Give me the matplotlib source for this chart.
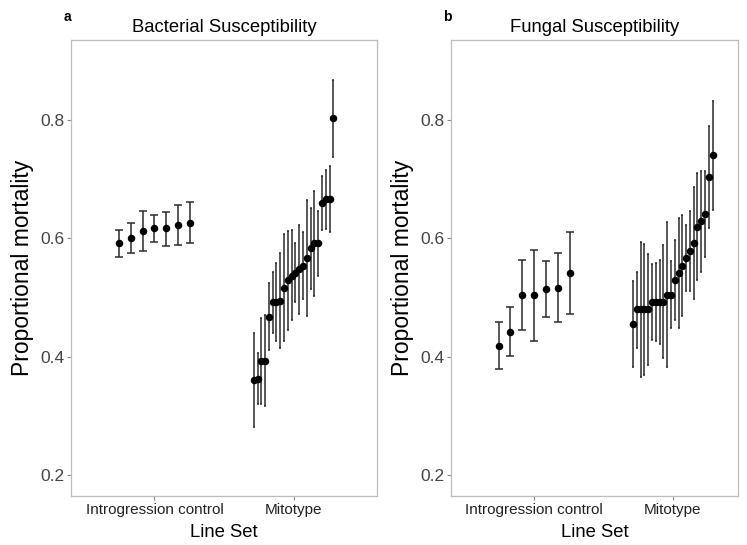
import matplotlib.pyplot as plt
import numpy as np

plt.rcParams['font.family'] = ['Liberation Sans', 'DejaVu Sans']

# Line sets (x categories)
line_sets = ['Introgression control', 'Mitotype']

# --- panel a: bacterial susceptibility ---
bact_intro_mean = [0.592, 0.600, 0.613, 0.617, 0.617, 0.623, 0.626]
bact_intro_lo = [0.569, 0.576, 0.579, 0.594, 0.587, 0.589, 0.592]
bact_intro_hi = [0.614, 0.626, 0.646, 0.639, 0.645, 0.657, 0.661]

bact_mito_mean = [0.361, 0.363, 0.393, 0.393, 0.468, 0.492, 0.492, 0.494, 0.517, 0.530, 0.537,
                  0.542, 0.548, 0.554, 0.567, 0.583, 0.592, 0.592, 0.659, 0.666, 0.666, 0.803]
bact_mito_lo = [0.281, 0.321, 0.321, 0.317, 0.411, 0.441, 0.426, 0.415, 0.426, 0.446, 0.462,
                0.492, 0.473, 0.498, 0.469, 0.515, 0.503, 0.537, 0.614, 0.616, 0.610, 0.737]
bact_mito_hi = [0.441, 0.406, 0.465, 0.470, 0.524, 0.544, 0.559, 0.575, 0.608, 0.613, 0.614,
                0.592, 0.623, 0.611, 0.665, 0.651, 0.680, 0.646, 0.706, 0.715, 0.723, 0.867]

# --- panel b: fungal susceptibility ---
fung_intro_mean = [0.419, 0.442, 0.504, 0.504, 0.515, 0.517, 0.541]
fung_intro_lo = [0.379, 0.401, 0.445, 0.427, 0.468, 0.459, 0.472]
fung_intro_hi = [0.459, 0.484, 0.563, 0.581, 0.562, 0.575, 0.610]

fung_mito_mean = [0.455, 0.480, 0.480, 0.480, 0.480, 0.492, 0.492, 0.492, 0.492, 0.505, 0.505,
                  0.530, 0.542, 0.554, 0.567, 0.579, 0.592, 0.620, 0.629, 0.641, 0.703, 0.740]
fung_mito_lo = [0.382, 0.415, 0.366, 0.370, 0.387, 0.429, 0.426, 0.421, 0.398, 0.383, 0.448,
                0.463, 0.448, 0.469, 0.511, 0.512, 0.497, 0.530, 0.543, 0.568, 0.617, 0.648]
fung_mito_hi = [0.528, 0.544, 0.594, 0.590, 0.574, 0.556, 0.559, 0.564, 0.588, 0.627, 0.561,
                0.597, 0.635, 0.640, 0.623, 0.646, 0.686, 0.711, 0.714, 0.714, 0.790, 0.832]

yticks = [0.2, 0.4, 0.6, 0.8]


def dodge(center, n, width=0.6):
    # ggplot style position_dodge
    step = width / n
    return center + (np.arange(n) - (n - 1) / 2) * step


def draw_group(ax, center, mean, lo, hi, capsize):
    mean = np.array(mean)
    x = dodge(center, len(mean))
    err = [mean - np.array(lo), np.array(hi) - mean]
    ax.errorbar(x, mean, yerr=err, fmt='o', color='black', ms=4.4,
                ecolor='#2b2b2b', elinewidth=1.1, capsize=capsize, capthick=1.1)


def style_axes(ax, title, xright):
    ax.set_xlim(0.4, xright)
    ax.set_ylim(0.165, 0.935)
    ax.set_xticks([1, 2])
    ax.set_xticklabels(line_sets, fontsize=11)
    ax.set_yticks(yticks)
    ax.set_yticklabels([str(t) for t in yticks], fontsize=12.5, color='#444444')
    for lab in ax.get_xticklabels():
        lab.set_color('#222222')
    ax.tick_params(length=3, width=0.8, color='#888888', pad=2)
    for s in ax.spines.values():
        s.set_color('#bdbdbd')
        s.set_linewidth(0.9)
    ax.set_title(title, fontsize=13.3, pad=6)
    ax.set_xlabel('Line Set', fontsize=13.3, labelpad=5)
    ax.set_ylabel('Proportional mortality', fontsize=16.5, labelpad=4)


fig = plt.figure(figsize=(7.47, 5.45), dpi=100)
ax1 = fig.add_axes([71 / 747, 1 - 496 / 545, 306 / 747, 456 / 545])
ax2 = fig.add_axes([451 / 747, 1 - 496 / 545, 287 / 747, 456 / 545])

draw_group(ax1, 1, bact_intro_mean, bact_intro_lo, bact_intro_hi, 2.9)
draw_group(ax1, 2, bact_mito_mean, bact_mito_lo, bact_mito_hi, 0.9)
style_axes(ax1, 'Bacterial Susceptibility', 2.6)

draw_group(ax2, 1, fung_intro_mean, fung_intro_lo, fung_intro_hi, 2.9)
draw_group(ax2, 2, fung_mito_mean, fung_mito_lo, fung_mito_hi, 0.9)
style_axes(ax2, 'Fungal Susceptibility', 2.47)

fig.text(67 / 747, 1 - 17 / 545, 'a', fontsize=10, fontweight='bold', ha='center', va='center')
fig.text(447 / 747, 1 - 17 / 545, 'b', fontsize=10, fontweight='bold', ha='center', va='center')

fig.savefig('out.png', dpi=100)
